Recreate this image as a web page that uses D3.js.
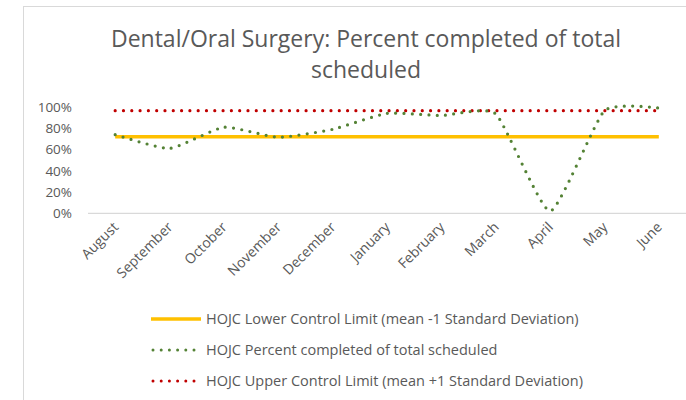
<!DOCTYPE html>
<html>
<head>
<meta charset="utf-8">
<script src="https://d3js.org/d3.v7.min.js"></script>
<style>
  body { margin: 0; background: #fff; }
  text { font-family: "Open Sans", "Liberation Sans", sans-serif; fill: #595959; }
</style>
</head>
<body>
<script>
// chart data
var months = ["August", "September", "October", "November", "December", "January",
              "February", "March", "April", "May", "June"];
var percentCompleted = [0.74, 0.61, 0.81, 0.715, 0.79, 0.94, 0.92, 0.935, 0.02, 0.965, 0.99];
var lowerLimit = 0.72;
var upperLimit = 0.965;
var yTicks = [0, 0.2, 0.4, 0.6, 0.8, 1.0];
var titleLines = ["Dental/Oral Surgery: Percent completed of total", "scheduled"];
var legendItems = [
  {label: "HOJC Lower Control Limit (mean -1 Standard Deviation)", color: "#ffc000", dotted: false},
  {label: "HOJC Percent completed of total scheduled", color: "#548235", dotted: true},
  {label: "HOJC Upper Control Limit (mean +1 Standard Deviation)", color: "#c00000", dotted: true}
];

var W = 686, H = 400;
var svg = d3.select("body").append("svg").attr("width", W).attr("height", H);

// chart area border (runs off the right and bottom edges)
svg.append("rect")
  .attr("x", 23.5).attr("y", 6.5).attr("width", 700).attr("height", 420)
  .attr("fill", "none").attr("stroke", "#d9d9d9");

// title
svg.selectAll("text.title").data(titleLines).enter().append("text")
  .attr("class", "title")
  .attr("x", 366).attr("y", function(d, i) { return 47 + i * 31; })
  .attr("text-anchor", "middle")
  .style("font-size", "23px")
  .text(function(d) { return d; });

var x = d3.scaleBand().domain(months).range([88, 686]);
var y = d3.scaleLinear().domain([0, 1]).range([213.3, 107]);
var cx = function(d) { return x(d) + x.bandwidth() / 2; };

// y axis labels
svg.append("g")
  .attr("transform", "translate(72,0)")
  .call(d3.axisLeft(y).tickValues(yTicks).tickFormat(d3.format(".0%")).tickSize(0).tickPadding(0))
  .call(function(g) { g.select(".domain").remove(); })
  .selectAll("text").style("font-size", "13.5px").attr("fill", "#595959");

// baseline
svg.append("line")
  .attr("x1", 88).attr("x2", 686).attr("y1", y(0)).attr("y2", y(0))
  .attr("stroke", "#d9d9d9").attr("stroke-width", 1.3);

// category labels rotated
svg.append("g").selectAll("text").data(months).enter().append("text")
  .attr("transform", function(d) { return "translate(" + (cx(d) + 4) + ",228) rotate(-45)"; })
  .attr("text-anchor", "end")
  .style("font-size", "14px")
  .text(function(d) { return d; });

var line = d3.line().x(function(d) { return cx(d.m); }).y(function(d) { return y(d.v); });

// lower limit
svg.append("path")
  .datum(months.map(function(m) { return {m: m, v: lowerLimit}; }))
  .attr("d", line).attr("fill", "none")
  .attr("stroke", "#ffc000").attr("stroke-width", 3.5);

// upper limit
svg.append("path")
  .datum(months.map(function(m) { return {m: m, v: upperLimit}; }))
  .attr("d", line).attr("fill", "none")
  .attr("stroke", "#c00000").attr("stroke-width", 3.2)
  .attr("stroke-linecap", "round").attr("stroke-dasharray", "0 8.3");

// percent completed, smoothed
svg.append("path")
  .datum(months.map(function(m, i) { return {m: m, v: percentCompleted[i]}; }))
  .attr("d", line.curve(d3.curveCardinal.tension(0.5))).attr("fill", "none")
  .attr("stroke", "#548235").attr("stroke-width", 3.2)
  .attr("stroke-linecap", "round").attr("stroke-dasharray", "0 8.3");

// legend
var lg = svg.append("g").selectAll("g").data(legendItems).enter().append("g")
  .attr("transform", function(d, i) { return "translate(151," + (319 + i * 31) + ")"; });
lg.append("line")
  .attr("x1", function(d) { return d.dotted ? 2 : 0; }).attr("x2", 50)
  .attr("stroke", function(d) { return d.color; })
  .attr("stroke-width", function(d) { return d.dotted ? 3 : 3.5; })
  .attr("stroke-linecap", function(d) { return d.dotted ? "round" : "butt"; })
  .attr("stroke-dasharray", function(d) { return d.dotted ? "0 8.2" : null; });
lg.append("text")
  .attr("x", 55).attr("y", 5)
  .style("font-size", "14.5px")
  .text(function(d) { return d.label; });
</script>
</body>
</html>
